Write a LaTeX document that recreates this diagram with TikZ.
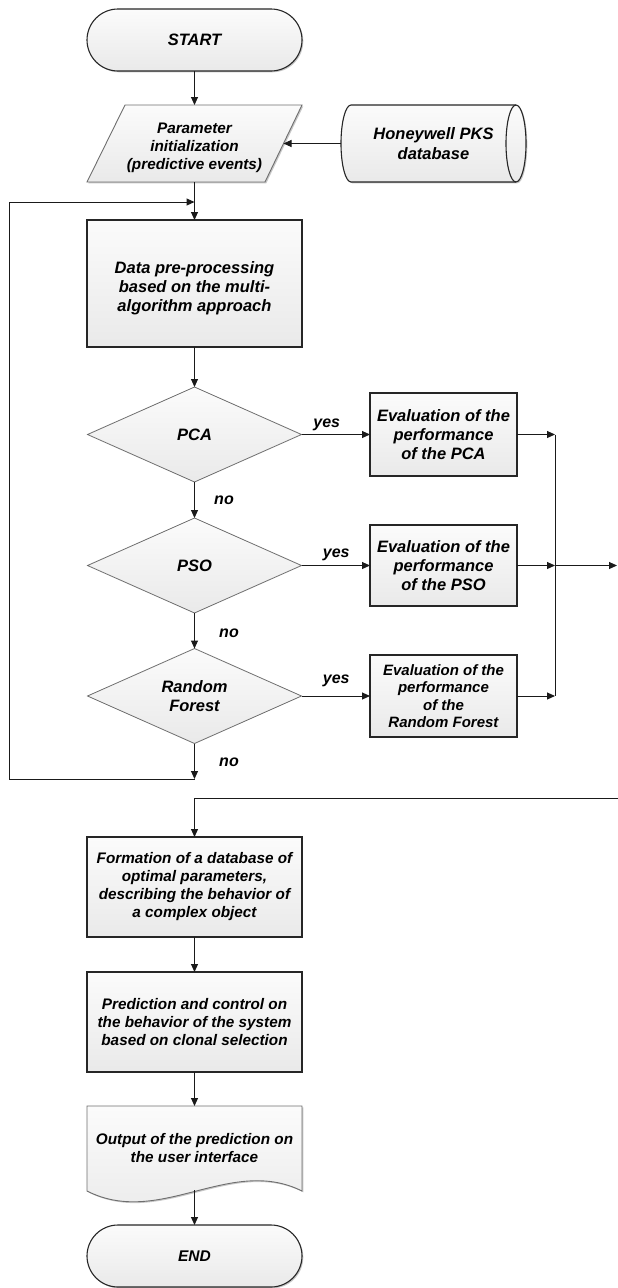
\documentclass[tikz,border=0pt]{standalone}
\usepackage{fontspec}
\setmainfont{Liberation Sans}
\usetikzlibrary{shapes.geometric,shapes.misc,shadows,arrows.meta}
\definecolor{bordc}{HTML}{262626}
\definecolor{lightb}{HTML}{6E6E6E}
\definecolor{linec}{HTML}{1A1A1A}
\begin{document}
\begin{tikzpicture}[x=1pt,y=-1pt,
  fntb/.style={font=\fontsize{16.5}{19}\selectfont\bfseries\itshape},
  fnth/.style={font=\fontsize{16.5}{20}\selectfont\bfseries\itshape},
  fnts/.style={font=\fontsize{15.3}{18}\selectfont\bfseries\itshape},
  fntr/.style={font=\fontsize{15}{17.5}\selectfont\bfseries\itshape},
  fntl/.style={font=\fontsize{16}{19}\selectfont\bfseries\itshape},
  fntm/.style={font=\fontsize{15.5}{18}\selectfont\bfseries\itshape},
  shd/.style={drop shadow={shadow xshift=1.3pt,shadow yshift=-1.3pt,fill=black,opacity=0.22}},
  filld/.style={top color=gray!3,bottom color=gray!17},
  plain/.style={rectangle,inner sep=0pt,outer sep=0pt,align=center},
  box/.style={rectangle,draw=bordc,line width=1.1pt,filld,shd,minimum width=215pt,inner sep=0pt,outer sep=0pt,align=center},
  ebox/.style={box,minimum width=147pt},
  term/.style={rounded rectangle,draw=bordc,line width=1.1pt,filld,shd,minimum width=215pt,minimum height=62pt,inner sep=0pt,outer sep=0pt},
  dia/.style={diamond,aspect=2.25,minimum width=214pt,minimum height=95pt,inner sep=0pt,outer sep=0pt,draw=lightb,line width=0.8pt,filld,align=center,fntb},
  arr/.style={draw=linec,line width=1pt,-{Triangle[length=8pt,width=7pt]}},
  ln/.style={draw=linec,line width=1pt},
  lbl/.style={fntl,inner sep=0pt}]
\useasboundingbox (0,0) rectangle (618,1288);

% START
\node[term,fntb] (start) at (194.5,40) {START};

% Parameter parallelogram
\path[draw=lightb,line width=0.9pt,filld,shd] (125,105) -- (302,105) -- (265,182) -- (87,182) -- cycle;
\node[plain,minimum width=178pt,minimum height=77pt,fnts] (param) at (194.5,143.5)
  {\raisebox{-4pt}[\height][\depth]{\begin{tabular}{@{}c@{}}Parameter\\initialization\\(predictive events)\end{tabular}}};

% Database cylinder
\path[draw=bordc,line width=1.1pt,filld,shd] (351,105) -- (516,105)
  arc[start angle=90,end angle=-90,x radius=10pt,y radius=38.5pt] -- (351,182)
  arc[start angle=270,end angle=90,x radius=10pt,y radius=38.5pt] -- cycle;
\draw[bordc,line width=1.1pt] (516,105) arc[start angle=90,end angle=270,x radius=10pt,y radius=38.5pt];
\node[plain,minimum width=185pt,minimum height=77pt,fnth] (db) at (433.5,143.5) {Honeywell PKS\\database};

% Data pre-processing
\node[box,minimum height=127pt,fntb] (data) at (194.5,283.5)
  {\raisebox{-5pt}[\height][\depth]{\begin{tabular}{@{}c@{}}Data pre-processing\\based on the multi-\\algorithm approach\end{tabular}}};

% Decisions
\node[dia] (pca) at (194.5,434.5) {PCA};
\node[dia] (pso) at (194.5,565.5) {PSO};
\node[dia] (rf) at (194.5,696) {Random\\Forest};

% Evaluation boxes
\node[ebox,minimum height=83pt,fntb] (evpca) at (443.5,434.5) {Evaluation of the\\performance\\of the PCA};
\node[ebox,minimum height=81pt,fntb] (evpso) at (443.5,565.5) {Evaluation of the\\performance\\of the PSO};
\node[ebox,minimum height=82pt,fntr] (evrf) at (443.5,696) {Evaluation of the\\performance\\of the\\Random Forest};

% Lower boxes
\node[box,minimum height=100pt,fnts] (form) at (194.5,887) {Formation of a database of\\optimal parameters,\\describing the behavior of\\a complex object};
\node[box,minimum height=100pt,fnts] (pred) at (194.5,1022) {Prediction and control on\\the behavior of the system\\based on clonal selection};

% Output document
\path[draw=lightb,line width=0.9pt,filld,shd] (87,1106) -- (302,1106) -- (302,1191)
  .. controls (230,1155) and (160,1228) .. (87,1191) -- cycle;
\node[plain,minimum width=215pt,minimum height=85pt,fnts] (outdoc) at (194.5,1148.5) {Output of the prediction on\\the user interface};
\coordinate (outbot) at (194.5,1190);

% END
\node[term,fntm] (end) at (194.5,1256) {END};

% coordinates
\coordinate (j1) at (555,434.5);
\coordinate (j2) at (555,565.5);
\coordinate (j3) at (555,696);
\coordinate (exit) at (617,565.5);
\coordinate (lb) at (194.5,779);
\coordinate (lbl) at (9,779);
\coordinate (ltl) at (9,202);
\coordinate (lin) at (194.5,202);
\coordinate (entry) at (618,798);
\coordinate (fc) at (194.5,798);

% connectors
\draw[arr] (start) -- (param);
\draw[arr] (db.west) -- (param.east);
\draw[arr] (param) -- (data);
\draw[arr] (data) -- (pca);
\draw[arr] (pca) -- node[lbl,midway,xshift=29.5pt]{no} (pso);
\draw[arr] (pso) -- node[lbl,midway,xshift=34.5pt,yshift=-2.5pt]{no} (rf);
\draw[arr] (rf) -- node[lbl,midway,xshift=34.5pt,yshift=-1.5pt]{no} (lb);
\draw[arr] (lb) -- (lbl) -- (ltl) -- (lin);

\draw[arr] (pca) -- node[lbl,midway,xshift=-9pt,yshift=9.5pt]{yes} (evpca);
\draw[arr] (pso) -- node[lbl,midway,xshift=0.5pt,yshift=10.5pt]{yes} (evpso);
\draw[arr] (rf) -- node[lbl,midway,xshift=0.5pt,yshift=15pt]{yes} (evrf);

\draw[arr] (evpca) -- (j1);
\draw[arr] (evpso) -- (j2);
\draw[arr] (evrf) -- (j3);
\draw[ln] (j1) -- (j3);
\draw[arr] (j2) -- (exit);

\draw[arr] (entry) -- (fc) -- (form);
\draw[arr] (form) -- (pred);
\draw[arr] (pred) -- (outdoc);
\draw[arr] (outbot) -- (end);
\end{tikzpicture}
\end{document}
